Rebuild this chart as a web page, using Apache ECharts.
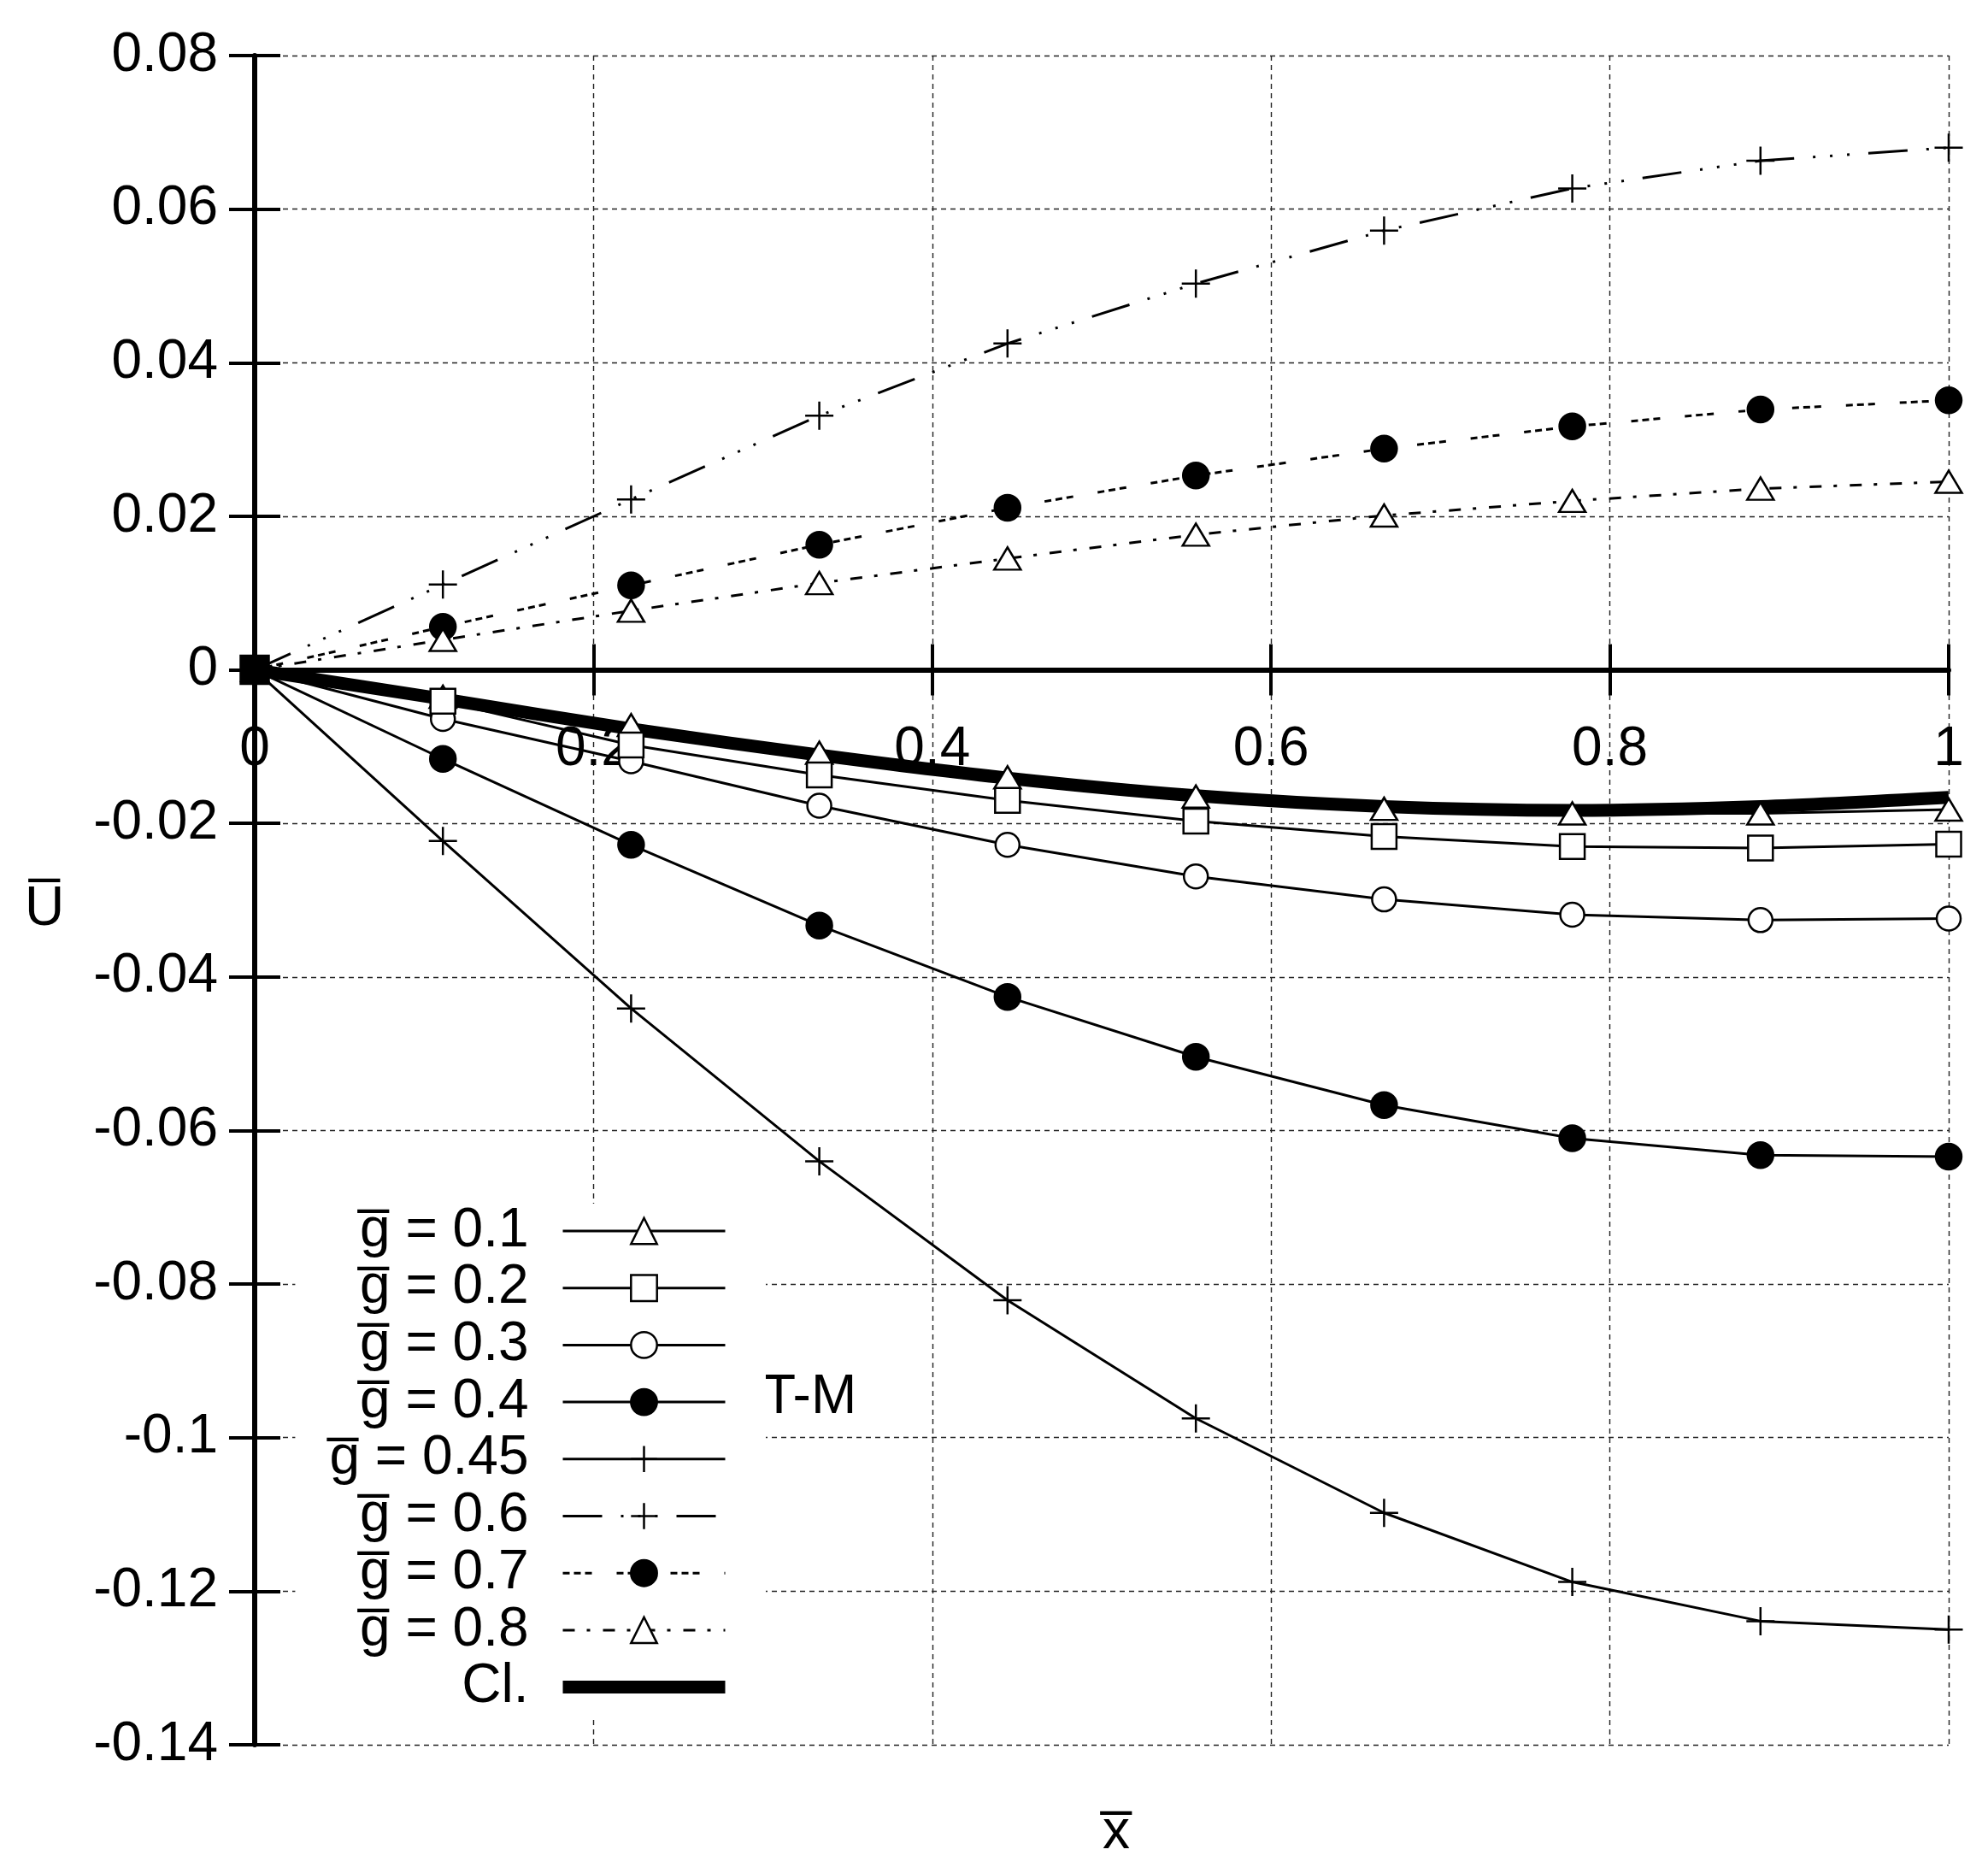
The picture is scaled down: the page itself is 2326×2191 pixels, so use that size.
<!DOCTYPE html>
<html><head><meta charset="utf-8">
<script src="https://cdn.jsdelivr.net/npm/echarts@6/dist/echarts.min.js"></script>
<style>html,body{margin:0;padding:0;background:#fff}#c{width:2326px;height:2191px}</style>
</head><body><div id="c"></div>
<script>
// ---- data ----
const xValues = [0, 0.1111, 0.2222, 0.3333, 0.4444, 0.5556, 0.6667, 0.7778, 0.8889, 1];
const xTicks = [0, 0.2, 0.4, 0.6, 0.8, 1];
const yTicks = [-0.14, -0.12, -0.1, -0.08, -0.06, -0.04, -0.02, 0, 0.02, 0.04, 0.06, 0.08];
const g01  = [0, -0.0035, -0.0072, -0.0108, -0.0140, -0.0165, -0.0181, -0.0187, -0.0187, -0.0182];
const g02  = [0, -0.0041, -0.0098, -0.0137, -0.0170, -0.0197, -0.0217, -0.0230, -0.0232, -0.0227];
const g03  = [0, -0.0064, -0.0119, -0.0177, -0.0228, -0.0269, -0.0299, -0.0319, -0.0326, -0.0324];
const g04  = [0, -0.0116, -0.0228, -0.0333, -0.0426, -0.0504, -0.0567, -0.0610, -0.0632, -0.0634];
const g045 = [0, -0.0223, -0.0441, -0.0640, -0.0821, -0.0975, -0.1098, -0.1188, -0.1239, -0.1250];
const g06  = [0, 0.0111, 0.0222, 0.0331, 0.0425, 0.0503, 0.0572, 0.0627, 0.0663, 0.0680];
const g07  = [0, 0.0056, 0.0110, 0.0163, 0.0211, 0.0253, 0.0288, 0.0317, 0.0339, 0.0351];
const g08  = [0, 0.0039, 0.0077, 0.0113, 0.0145, 0.0176, 0.0201, 0.0220, 0.0236, 0.0245];
const cl   = [0, -0.0038, -0.0077, -0.0111, -0.0141, -0.0164, -0.0178, -0.0183, -0.0178, -0.0166];
const seriesNames = ['g\u0305 = 0.1', 'g\u0305 = 0.2', 'g\u0305 = 0.3', 'g\u0305 = 0.4', 'g\u0305 = 0.45',
                     'g\u0305 = 0.6', 'g\u0305 = 0.7', 'g\u0305 = 0.8', 'Cl.'];
const xTitle = 'x\u0305';
const yTitle = 'U\u0305';
const groupLabel = 'T-M';

// ---- chart ----
const FONT = '"Liberation Sans", Arial, Helvetica, sans-serif';
const FS = 64;
const W = 2326, H = 2191;
const GRID = { left: 298, right: 46, top: 65, bottom: 150 };
const PLUS = 'path://M10,0 L10,20 M0,10 L20,10';
const pair = d => d.map((v, i) => [xValues[i], v]);
const LW = 3, CLW = 15;

function mk(name, data, symbol, size, fill, dash, width) {
  return {
    name, type: 'line', data: pair(data),
    symbol, symbolSize: size, showSymbol: true,
    smooth: false,
    lineStyle: { color: '#000', width: width || LW, type: dash || 'solid' },
    itemStyle: { color: fill, borderColor: '#000', borderWidth: 2.5 },
    emphasis: { disabled: true },
    z: 3
  };
}
const WHITE = '#fff', BLACK = '#000', NONE = 'rgba(0,0,0,0)';
const TRI = [31, 26];
const s01 = mk(seriesNames[0], g01, 'triangle', TRI, WHITE);
const s02 = mk(seriesNames[1], g02, 'rect', 29, WHITE);
// markers pile up at the origin and read as a solid square there
s02.data[0] = { value: s02.data[0], symbolSize: 33, itemStyle: { color: BLACK } };
const s03 = mk(seriesNames[2], g03, 'circle', 28, WHITE);
const s04 = mk(seriesNames[3], g04, 'circle', 30, BLACK);
const s045 = mk(seriesNames[4], g045, PLUS, 33, NONE);
const s06 = mk(seriesNames[5], g06, PLUS, 33, NONE, [46, 22, 3, 17, 3, 17, 3, 22]);
const s07 = mk(seriesNames[6], g07, 'circle', 30, BLACK, [8, 5, 8, 5, 8, 29]);
const s08 = mk(seriesNames[7], g08, 'triangle', TRI, WHITE, [14, 14, 4, 15]);
const sCl = mk(seriesNames[8], cl, 'circle', 0, NONE, 'solid', CLW);
sCl.showSymbol = false;
sCl.itemStyle = { color: NONE, borderColor: NONE, borderWidth: 0 };
sCl.smooth = 0.3;
sCl.z = 2;
const series = [sCl, s01, s03, s04, s045, s06, s07, s08, s02];

const yMin = yTicks[0], yMax = yTicks[yTicks.length - 1];
const gridH = H - GRID.top - GRID.bottom;
// x axis sits on the y = 0 line: shift it up from the grid bottom
const xAxisOffset = -gridH * (0 - yMin) / (yMax - yMin);

const fmt = v => String(parseFloat(v.toFixed(2)));
const tickStyle = { color: '#000', width: 4 };
const gridLine = { show: true, lineStyle: { color: '#222', width: 1.4, type: [6, 5] } };
const xBase = {
  type: 'value', min: xTicks[0], max: xTicks[xTicks.length - 1], interval: xTicks[1] - xTicks[0],
  position: 'bottom'
};
const yBase = {
  type: 'value', min: yMin, max: yMax, interval: yTicks[1] - yTicks[0], position: 'left'
};

const legendData = seriesNames.map((n, i) => ({
  name: n, lineStyle: { width: i === seriesNames.length - 1 ? CLW : LW }
}));

const option = {
  animation: false,
  backgroundColor: '#fff',
  grid: Object.assign({ containLabel: false }, GRID),
  xAxis: [
    Object.assign({}, xBase, {
      splitLine: gridLine, axisLine: { show: false }, axisTick: { show: false }, axisLabel: { show: false }
    }),
    Object.assign({}, xBase, {
      offset: xAxisOffset,
      axisLine: { show: true, onZero: false, lineStyle: { color: '#000', width: 6 } },
      axisTick: { show: true, length: 30, lineStyle: tickStyle },
      axisLabel: { margin: 62, fontSize: FS, fontFamily: FONT, color: '#000', formatter: fmt },
      splitLine: { show: false }
    }),
    Object.assign({}, xBase, {
      offset: xAxisOffset,
      axisLine: { show: false, onZero: false },
      axisTick: { show: true, inside: true, length: 30, lineStyle: tickStyle },
      axisLabel: { show: false }, splitLine: { show: false }
    })
  ],
  yAxis: [
    Object.assign({}, yBase, {
      axisLine: { show: true, onZero: false, lineStyle: { color: '#000', width: 6 } },
      axisTick: { show: true, length: 30, lineStyle: tickStyle },
      axisLabel: { margin: 43, fontSize: FS, fontFamily: FONT, color: '#000', formatter: fmt },
      splitLine: gridLine
    }),
    Object.assign({}, yBase, {
      axisLine: { show: false, onZero: false },
      axisTick: { show: true, inside: true, length: 30, lineStyle: tickStyle },
      axisLabel: { show: false }, splitLine: { show: false }
    })
  ],
  legend: {
    data: legendData,
    orient: 'vertical', align: 'right',
    right: 1430, top: 1408,
    padding: [0, 40, 4, 40],
    backgroundColor: '#fff',
    itemWidth: 190, itemHeight: 38, itemGap: 2.7,
    selectedMode: false,
    itemStyle: { borderWidth: 2.5 },
    lineStyle: { width: LW },
    textStyle: { fontSize: FS, fontFamily: FONT, color: '#000', padding: [0, 35, 0, 0] },
    z: 4
  },
  graphic: [
    { type: 'text', x: 52, y: 1064, style: { text: yTitle, font: FS + 'px ' + FONT, fill: '#000', align: 'center', verticalAlign: 'middle' } },
    { type: 'text', x: 1306, y: 2144, style: { text: xTitle, font: FS + 'px ' + FONT, fill: '#000', align: 'center', verticalAlign: 'middle' } },
    { type: 'text', x: 892, y: 1635, style: { text: groupLabel, font: FS + 'px ' + FONT, fill: '#000', align: 'left', verticalAlign: 'middle' } }
  ],
  series: series.map(s => Object.assign(s, { xAxisIndex: 0, yAxisIndex: 0 }))
};
const chart = echarts.init(document.getElementById('c'), null, { renderer: 'canvas' });
chart.setOption(option);
</script></body></html>
